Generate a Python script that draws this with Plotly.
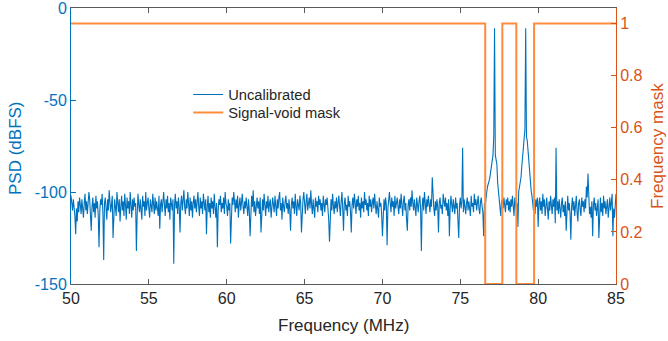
import plotly.graph_objects as go

# ---- data ----
freq_start_mhz = 50.0
freq_step_mhz = 0.05
psd_uncal_dbfs = [
    -102, -106, -110, -104, -108, -113, -123, -109, -116, -105, -111, -103, -107, -112, -104, -109, -114, -106, -101, -110,  # 50
    -105, -112, -107, -100, -104, -110, -121, -108, -103, -111, -106, -114, -102, -109, -105, -113, -130, -110, -104, -107,  # 51
    -101, -112, -137, -106, -103, -109, -115, -104, -110, -99, -105, -111, -107, -102, -125, -110, -104, -108, -113, -100,   # 52
    -106, -111, -104, -116, -108, -102, -110, -105, -113, -101, -107, -115, -103, -109, -105, -112, -100, -108, -114, -104,  # 53
    -110, -103, -108, -106, -132, -112, -101, -107, -111, -104, -109, -115, -102, -108, -105, -113, -100, -110, -106, -103,  # 54
    -109, -114, -104, -107, -111, -101, -106, -112, -103, -110, -105, -108, -113, -102, -120, -107, -104, -111, -106, -100,  # 55
    -107, -113, -104, -109, -102, -111, -106, -115, -103, -108, -110, -104, -139, -107, -101, -109, -105, -112, -103, -108,  # 56
    -122, -106, -102, -110, -105, -99, -108, -112, -104, -109, -100, -107, -113, -103, -110, -105, -114, -106, -102, -109,   # 57
    -104, -111, -106, -100, -108, -113, -103, -109, -105, -112, -101, -107, -110, -104, -123, -108, -102, -111, -106, -114,  # 58
    -103, -109, -105, -112, -101, -108, -114, -106, -130, -110, -104, -107, -102, -111, -106, -109, -103, -112, -100, -106,  # 59
    -108, -113, -104, -110, -106, -128, -109, -103, -107, -100, -105, -111, -104, -109, -102, -114, -107, -103, -110, -106,  # 60
    -101, -108, -112, -105, -109, -103, -107, -113, -104, -110, -124, -106, -102, -108, -99, -111, -105, -113, -107, -103,   # 61
    -109, -105, -112, -103, -122, -108, -104, -110, -101, -107, -113, -105, -109, -102, -111, -106, -104, -114, -108, -103,  # 62
    -107, -111, -102, -106, -113, -104, -109, -103, -100, -110, -106, -115, -103, -108, -111, -105, -102, -109, -106, -112,  # 63
    -104, -110, -121, -107, -103, -109, -105, -112, -101, -108, -113, -104, -107, -110, -102, -106, -122, -109, -104, -100,  # 64
    -108, -112, -105, -101, -110, -106, -103, -109, -99, -107, -112, -104, -109, -114, -103, -108, -105, -111, -102, -107,   # 65
    -104, -110, -106, -113, -102, -108, -111, -104, -107, -103, -109, -115, -127, -108, -104, -110, -101, -107, -112, -105,  # 66
    -109, -103, -111, -106, -102, -108, -113, -105, -100, -109, -121, -106, -103, -110, -107, -113, -102, -108, -105, -111,  # 67
    -122, -107, -103, -109, -101, -106, -112, -104, -108, -102, -110, -106, -114, -103, -109, -105, -111, -100, -107, -104,  # 68
    -110, -106, -113, -102, -108, -104, -111, -106, -103, -109, -101, -107, -112, -105, -109, -114, -103, -108, -106, -112,  # 69
    -124, -108, -104, -110, -103, -107, -129, -109, -104, -100, -106, -111, -103, -108, -105, -113, -102, -109, -106, -103,  # 70
    -108, -112, -104, -109, -101, -107, -113, -105, -102, -110, -106, -115, -121, -107, -104, -110, -103, -108, -99, -106,   # 71
    -110, -104, -108, -113, -103, -107, -111, -105, -102, -109, -132, -108, -103, -110, -100, -106, -112, -104, -108, -102,  # 72
    -106, -111, -104, -108, -92, -103, -109, -113, -105, -110, -104, -108, -122, -106, -103, -109, -107, -112, -101, -105,   # 73
    -108, -103, -110, -106, -113, -104, -124, -109, -102, -107, -111, -104, -108, -112, -103, -109, -106, -113, -125, -107,  # 74
    -103, -109, -105, -76, -111, -104, -108, -112, -106, -103, -110, -105, -109, -113, -102, -108, -106, -111, -101, -107,   # 75
    -104, -110, -106, -102, -109, -112, -105, -103, -108, -111, -124, -106, -108, -102, -100, -97, -96, -94, -92, -89,       # 76
    -86, -83, -80, -70, -11, -80, -84, -85, -95, -99, -102, -108, -113, -105, -104, -109, -103, -107, -111, -104,            # 77
    -107, -103, -110, -105, -111, -104, -108, -102, -109, -113, -103, -108, -110, -106, -119, -100, -97, -94, -92, -86,      # 78
    -80, -77, -68, -66, -11, -70, -72, -78, -84, -90, -95, -99, -102, -108, -110, -106, -112, -104, -108, -103,              # 79
    -119, -106, -103, -110, -105, -112, -101, -108, -104, -113, -107, -103, -109, -115, -105, -110, -102, -108, -112, -104,  # 80
    -108, -103, -117, -76, -110, -105, -112, -104, -109, -114, -106, -103, -111, -107, -113, -105, -121, -108, -102, -110,   # 81
    -106, -112, -126, -108, -103, -110, -105, -113, -107, -102, -111, -116, -106, -104, -110, -113, -103, -108, -105, -111,  # 82
    -104, -109, -97, -103, -90, -106, -112, -108, -114, -105, -124, -107, -103, -110, -106, -113, -109, -104, -125, -108,    # 83
    -103, -111, -106, -113, -102, -109, -105, -112, -108, -104, -114, -107, -103, -110, -106, -101, -124, -109, -114, -105,  # 84
    -101,                                                                                                                   # 85
]
freq_mhz = [round(freq_start_mhz + i * freq_step_mhz, 3) for i in range(len(psd_uncal_dbfs))]

mask_freq_mhz = [50, 76.6, 76.6, 77.7, 77.7, 78.6, 78.6, 79.74, 79.74, 85]
mask_value = [1, 1, 0, 0, 1, 1, 0, 0, 1, 1]

x_ticks = [50, 55, 60, 65, 70, 75, 80, 85]
psd_ticks = [-150, -100, -50, 0]
psd_tick_labels = ["-150", "-100", "-50", "0"]
mask_ticks = [0, 0.2, 0.4, 0.6, 0.8, 1]
mask_tick_labels = ["0", "0.2", "0.4", "0.6", "0.8", "1"]

# ---- style ----
BLUE = "#0072BD"
ORANGE_AX = "#D95319"
ORANGE_LINE = "#FF8B3D"
DARK = "#262626"
AXGRAY = "#595959"
FONT = "Liberation Sans, Arial, sans-serif"
W, H = 668, 341
L, R, T, B = 71, 52, 8, 57

fig = go.Figure()
fig.add_trace(go.Scatter(
    x=freq_mhz, y=psd_uncal_dbfs, mode="lines", name="Uncalibrated",
    line=dict(color=BLUE, width=1.1), legend="legend",
))
fig.add_trace(go.Scatter(
    x=mask_freq_mhz, y=mask_value, mode="lines", name="Signal-void mask",
    line=dict(color=ORANGE_LINE, width=2), yaxis="y2", legend="legend2",
))

plot_h = H - T - B
def py(pix):
    return (H - B - pix) / plot_h

leg_common = dict(
    xanchor="left", yanchor="middle", bgcolor="rgba(255,255,255,0)", borderwidth=0,
    font=dict(family=FONT, size=14.7, color=DARK), itemwidth=30,
)
fig.update_layout(
    width=W, height=H,
    margin=dict(l=L, r=R, t=T, b=B),
    paper_bgcolor="white", plot_bgcolor="white",
    font=dict(family=FONT, size=16, color=DARK),
    showlegend=True,
    legend=dict(x=0.215, y=py(95), **leg_common),
    legend2=dict(x=0.215, y=py(113), **leg_common),
    xaxis=dict(
        range=[50, 85], tickvals=x_ticks, ticks="inside", ticklen=5,
        tickcolor=AXGRAY, showline=True, linecolor=AXGRAY, linewidth=1,
        mirror="ticks", showgrid=False, zeroline=False, automargin=False,
        ticklabeloverflow="allow",
        tickfont=dict(family=FONT, size=16, color=DARK),
    ),
    yaxis=dict(
        range=[-150, 0], tickvals=psd_ticks, ticktext=psd_tick_labels,
        ticks="inside", ticklen=5,
        tickcolor=BLUE, showline=True, linecolor=BLUE, linewidth=1,
        showgrid=False, zeroline=False, automargin=False,
        ticklabeloverflow="allow",
        tickfont=dict(family=FONT, size=16, color=BLUE),
    ),
    yaxis2=dict(
        range=[0, 1.06], overlaying="y", side="right",
        tickvals=mask_ticks, ticktext=mask_tick_labels, ticks="inside", ticklen=5,
        tickcolor=ORANGE_AX, showline=True, linecolor=ORANGE_AX, linewidth=1,
        showgrid=False, zeroline=False, automargin=False,
        ticklabeloverflow="allow",
        tickfont=dict(family=FONT, size=16, color=ORANGE_AX),
    ),
    annotations=[
        dict(text="Frequency (MHz)", xref="paper", yref="paper", x=0.5, y=py(325),
             xanchor="center", yanchor="middle", showarrow=False,
             font=dict(family=FONT, size=17, color=DARK)),
        dict(text="PSD (dBFS)", xref="paper", yref="paper", x=(15 - L) / (W - L - R), y=py(148),
             xanchor="center", yanchor="middle", showarrow=False, textangle=-90,
             font=dict(family=FONT, size=17, color=BLUE)),
        dict(text="Frequency mask", xref="paper", yref="paper", x=(657 - L) / (W - L - R), y=py(146),
             xanchor="center", yanchor="middle", showarrow=False, textangle=-90,
             font=dict(family=FONT, size=17, color=ORANGE_AX)),
    ],
)

fig.write_html(
    "out.html",
    config={"displayModeBar": False},
    post_script="document.body.style.margin='0';document.body.style.overflow='hidden';",
)
